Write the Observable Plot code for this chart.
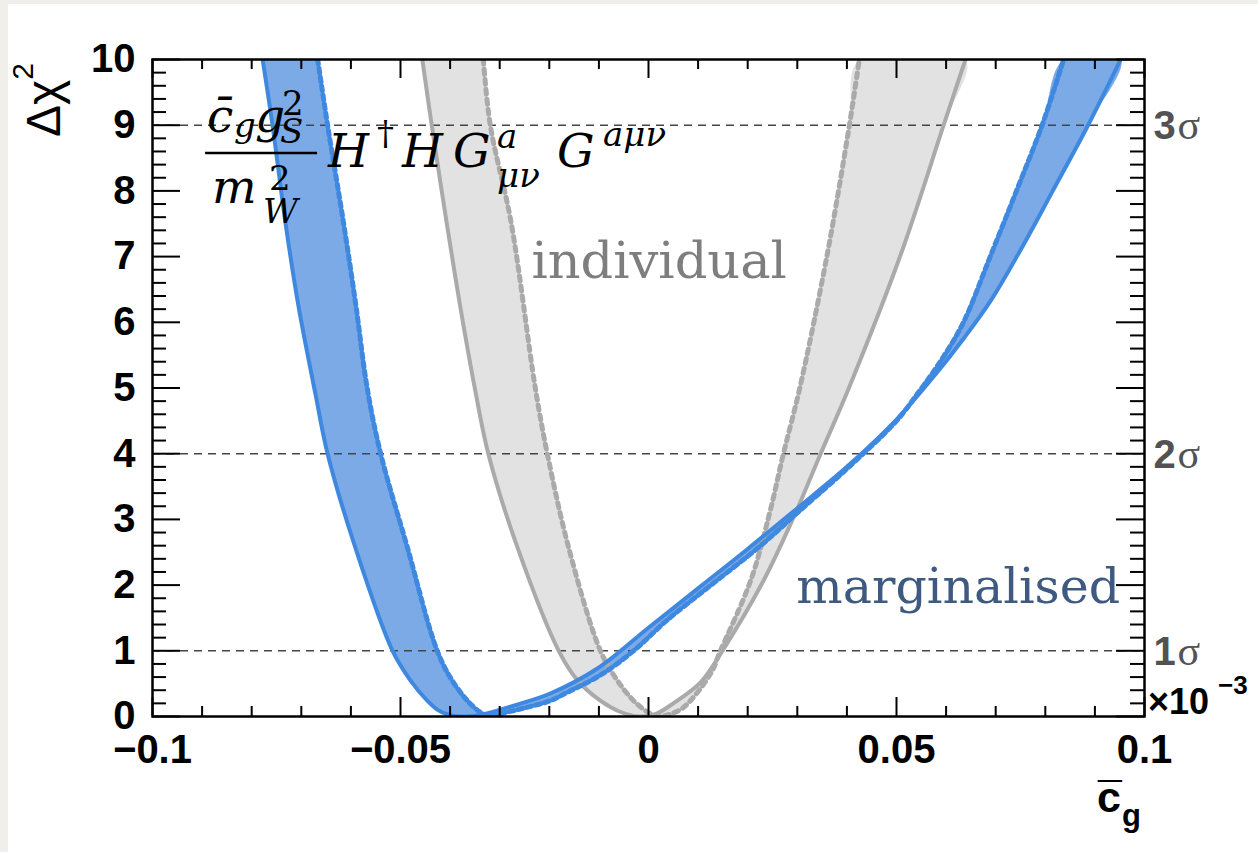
<!DOCTYPE html>
<html>
<head>
<meta charset="utf-8">
<script src="https://cdn.jsdelivr.net/npm/d3@7"></script>
<script src="https://cdn.jsdelivr.net/npm/@observablehq/plot@0.6"></script>
<style>
html, body { margin: 0; padding: 0; background: #f1efea; width: 1258px; height: 852px; overflow: hidden; }
#wrap { position: absolute; left: 8px; top: 4px; width: 1250px; height: 848px; background: #ffffff; }
</style>
</head>
<body>
<div id="wrap"></div>
<script>
// ---------- axis ticks and labels ----------
const xMajorTicks = [-0.1, -0.05, 0, 0.05, 0.1];
const xTickLabels = ["\u22120.1", "\u22120.05", "0", "0.05", "0.1"];
const xMinorTicks = [-0.09, -0.08, -0.07, -0.06, -0.04, -0.03, -0.02, -0.01, 0.01, 0.02, 0.03, 0.04, 0.06, 0.07, 0.08, 0.09];
const yMajorTicks = [0, 1, 2, 3, 4, 5, 6, 7, 8, 9, 10];
const yMinorTicks = d3.range(0, 10.001, 0.2).filter(v => Math.abs(v - Math.round(v)) > 1e-6);
const sigmaLevels = [1, 4, 9];
const sigmaLabels = ["1", "2", "3"];

// ---------- curves [x, delta chi^2] ----------
const margSolid = [
  [-0.0778, 10], [-0.0758, 9.0], [-0.0732, 7.52], [-0.0706, 6.26], [-0.0671, 4.89], [-0.0647, 4.0],
  [-0.0591, 2.57], [-0.0516, 1.0], [-0.0480, 0.55], [-0.0446, 0.24], [-0.0425, 0.10], [-0.0400, 0.02],
  [-0.0370, 0.0], [-0.0335, 0.03], [-0.0270, 0.17], [-0.0198, 0.35], [-0.0103, 0.73], [0.0000, 1.35],
  [0.0105, 1.98], [0.0200, 2.55], [0.0300, 3.17], [0.0400, 3.80], [0.0500, 4.52], [0.0580, 5.22],
  [0.0635, 5.75], [0.0690, 6.33], [0.0750, 7.10], [0.0815, 8.00], [0.0887, 9.01], [0.0952, 10]
];
const margDotted = [
  [-0.0667, 10], [-0.0647, 9.0], [-0.0615, 7.52], [-0.0590, 6.26], [-0.0567, 4.99], [-0.0540, 4.0],
  [-0.0486, 2.57], [-0.0426, 1.0], [-0.0396, 0.55], [-0.0365, 0.24], [-0.0340, 0.07], [-0.0320, 0.0],
  [-0.0300, 0.04], [-0.0250, 0.13], [-0.0198, 0.24], [-0.0163, 0.37], [-0.0097, 0.63], [-0.0030, 1.0],
  [0.0038, 1.47], [0.0126, 2.0], [0.0226, 2.60], [0.0300, 3.10], [0.0400, 3.77], [0.0500, 4.50],
  [0.0544, 4.93], [0.0590, 5.42], [0.0635, 6.0], [0.0690, 7.02], [0.0744, 8.04], [0.0794, 9.01], [0.0837, 10]
];
const indivSolid = [
  [-0.0456, 10], [-0.0437, 9.0], [-0.0407, 7.52], [-0.0380, 6.26], [-0.0350, 4.99], [-0.0323, 4.0],
  [-0.0264, 2.57], [-0.0181, 1.0], [-0.0143, 0.55], [-0.0097, 0.24], [-0.0060, 0.08], [-0.0020, 0.0],
  [0.0015, 0.04], [0.0050, 0.20], [0.0105, 0.52], [0.0149, 1.0], [0.0232, 2.07], [0.0296, 3.09],
  [0.0347, 4.0], [0.0404, 5.0], [0.0508, 7.02], [0.0595, 9.0], [0.0639, 10]
];
const indivDotted = [
  [-0.0333, 10], [-0.0319, 9.0], [-0.0277, 7.52], [-0.0228, 4.99], [-0.0204, 4.0], [-0.0161, 2.57],
  [-0.0097, 1.0], [-0.0063, 0.55], [-0.0030, 0.24], [0.0000, 0.06], [0.0020, 0.0], [0.0045, 0.04],
  [0.0071, 0.14], [0.0125, 0.65], [0.0145, 1.0], [0.0206, 2.07], [0.0244, 3.09], [0.0272, 4.0],
  [0.0305, 5.0], [0.0360, 7.02], [0.0405, 9.0], [0.0425, 10]
];

// ---------- annotation anchors (data coordinates) ----------
const labelIndividual = {x: -0.0236, y: 6.68, text: "individual"};
const labelMarginal = {x: 0.0298, y: 1.72, text: "marginalised"};
const formulaAnchor = [-0.0893, 8.57];

// ---------- styles ----------
const blueLine = "#3f88e0", blueFill = "#7caae6";
const grayLine = "#aaaaaa", grayFill = "#e2e2e2";
const W = 1250, Hh = 848, mL = 144, mR = 114, mT = 55, mB = 136;
const FW = W - mL - mR, FH = Hh - mT - mB;
const sans = "Liberation Sans, Arial, Helvetica, sans-serif";

const px = d => d[0], py = d => d[1];
const polygon = (a, b) => a.concat(b.slice().reverse());

const chart = Plot.plot({
  width: W, height: Hh,
  marginLeft: mL, marginRight: mR, marginTop: mT, marginBottom: mB,
  x: {domain: [-0.1, 0.1], axis: null},
  y: {domain: [0, 10], axis: null},
  style: {background: "transparent", overflow: "visible", fontFamily: sans},
  marks: [
    // bands
    Plot.line(polygon(indivSolid, indivDotted), {x: px, y: py, fill: grayFill, stroke: "none", curve: "catmull-rom", clip: true}),
    Plot.line(polygon(margSolid, margDotted), {x: px, y: py, fill: blueFill, stroke: "none", curve: "catmull-rom", clip: true}),
    // sigma lines
    Plot.ruleY(sigmaLevels, {y: d => d, stroke: "#444", strokeWidth: 1.5, strokeDasharray: "8,6"}),
    // individual curves
    Plot.line(indivSolid, {x: px, y: py, stroke: grayLine, strokeWidth: 4, curve: "catmull-rom", clip: true}),
    Plot.line(indivDotted, {x: px, y: py, stroke: grayLine, strokeWidth: 5, strokeDasharray: "5,5", curve: "catmull-rom", clip: true}),
    // marginalised curves
    Plot.line(margSolid, {x: px, y: py, stroke: blueLine, strokeWidth: 4, curve: "catmull-rom", clip: true}),
    Plot.line(margDotted, {x: px, y: py, stroke: blueLine, strokeWidth: 5, strokeDasharray: "5,4", curve: "catmull-rom", clip: true}),
    // ticks (inward, ROOT style)
    Plot.ruleX(xMajorTicks, {x: d => d, insetTop: FH - 19, stroke: "black", strokeWidth: 2}),
    Plot.ruleX(xMajorTicks, {x: d => d, insetBottom: FH - 19, stroke: "black", strokeWidth: 2}),
    Plot.ruleX(xMinorTicks, {x: d => d, insetTop: FH - 10, stroke: "black", strokeWidth: 2}),
    Plot.ruleX(xMinorTicks, {x: d => d, insetBottom: FH - 10, stroke: "black", strokeWidth: 2}),
    Plot.ruleY(yMajorTicks, {y: d => d, insetRight: FW - 28, stroke: "black", strokeWidth: 2}),
    Plot.ruleY(yMajorTicks, {y: d => d, insetLeft: FW - 28, stroke: "black", strokeWidth: 2}),
    Plot.ruleY(yMinorTicks, {y: d => d, insetRight: FW - 14, stroke: "black", strokeWidth: 2}),
    Plot.ruleY(yMinorTicks, {y: d => d, insetLeft: FW - 14, stroke: "black", strokeWidth: 2}),
    Plot.frame({stroke: "black", strokeWidth: 2.5}),
    // tick labels
    Plot.text(xMajorTicks, {x: d => d, text: (d, i) => xTickLabels[i], frameAnchor: "bottom", dy: 18, lineAnchor: "top",
      fontSize: 40, fontWeight: "bold", fontFamily: sans, fill: "black"}),
    Plot.text(yMajorTicks, {y: d => d, text: d => String(d), frameAnchor: "left", dx: -17, textAnchor: "end", lineAnchor: "middle",
      fontSize: 40, fontWeight: "bold", fontFamily: sans, fill: "black"}),
    // sigma labels on the right
    Plot.text(sigmaLevels, {y: d => d, text: (d, i) => sigmaLabels[i], frameAnchor: "right", dx: 9, dy: 14, textAnchor: "start", lineAnchor: "bottom",
      fontSize: 40, fontWeight: "bold", fontFamily: sans, fill: "#525252"}),
    Plot.text(sigmaLevels, {y: d => d, text: () => "\u03c3", frameAnchor: "right", dx: 33, dy: 14, textAnchor: "start", lineAnchor: "bottom",
      fontSize: 42, fontFamily: "Liberation Serif, serif", fill: "#525252"}),
    // curve labels
    Plot.text([labelIndividual], {x: "x", y: "y", text: "text", textAnchor: "start", lineAnchor: "bottom",
      fontSize: 51, fontFamily: "DejaVu Serif, serif", fill: "#7e7e7e"}),
    Plot.text([labelMarginal], {x: "x", y: "y", text: "text", textAnchor: "start", lineAnchor: "bottom",
      fontSize: 49, fontFamily: "DejaVu Serif, serif", fill: "#3e5a80"})
  ]
});
document.getElementById("wrap").appendChild(chart);

// ---------- rich texts (sub/superscripts) ----------
const svg = d3.select(chart);
const frameRight = W - mR, frameBottom = Hh - mB, frameLeft = mL, frameTop = mT;

// exponent  x10^-3
const ex = svg.append("text").attr("x", frameRight + 4).attr("y", frameBottom - 2)
  .attr("text-anchor", "start").attr("font-family", sans).attr("font-weight", "bold")
  .attr("font-size", 36).attr("fill", "black");
ex.append("tspan").text("\u00d710");
ex.append("tspan").attr("x", frameRight + 74).attr("dy", -20).attr("font-size", 26).text("\u22123");

// x-axis title  c-bar subscript g
const xt = svg.append("text").attr("x", frameRight - 47).attr("y", frameBottom + 96)
  .attr("text-anchor", "start").attr("font-family", sans).attr("font-weight", "bold")
  .attr("font-size", 43).attr("fill", "black");
xt.append("tspan").text("c");
xt.append("tspan").attr("x", frameRight - 46).text("\u00af");
xt.append("tspan").attr("x", frameRight - 22).attr("dy", 14).attr("font-size", 31).text("g");

// y-axis title  Delta chi^2
const yt = svg.append("text").attr("transform", `translate(${frameLeft - 92},${frameTop + 78}) rotate(-90)`)
  .attr("text-anchor", "start").attr("font-family", sans).attr("font-size", 48).attr("fill", "black");
yt.append("tspan").text("\u0394\u03c7");
yt.append("tspan").attr("dy", -27).attr("font-size", 30).text("2");

// operator formula (LaTeX-like)
const fx = chart.scale("x").apply(formulaAnchor[0]);
const fy = chart.scale("y").apply(formulaAnchor[1]);
const fg = svg.append("g").attr("transform", `translate(${fx},${fy})`)
  .attr("fill", "black").attr("text-anchor", "start");
fg.append("line").attr("x1", 0).attr("x2", 112).attr("y1", 0).attr("y2", 0)
  .attr("stroke", "black").attr("stroke-width", 2.5);
const formulaPieces = [
  ["c\u0304", 2, -21, 47, true],
  ["g", 29, -16, 34, true],
  ["g", 50, -21, 47, true],
  ["2", 77, -38, 34, false],
  ["S", 75, -10, 34, true],
  ["m", 7, 50, 47, true],
  ["2", 64, 37, 34, false],
  ["W", 58, 70, 34, true],
  ["H", 123, 14, 47, true],
  ["\u2020", 172, -8, 34, false],
  ["H", 197, 14, 47, true],
  ["G", 248, 14, 47, true],
  ["a", 292, -5, 34, true],
  ["\u03bc\u03bd", 292, 34, 34, true],
  ["G", 352, 14, 47, true],
  ["a\u03bc\u03bd", 398, -7, 34, true]
];
const ft = fg.append("text").attr("font-family", "DejaVu Serif, serif").attr("text-anchor", "start");
ft.selectAll("tspan").data(formulaPieces).join("tspan")
  .attr("x", d => d[1]).attr("y", d => d[2])
  .attr("font-size", d => d[3])
  .attr("font-style", d => d[4] ? "italic" : "normal")
  .text(d => d[0]);
</script>
</body>
</html>
